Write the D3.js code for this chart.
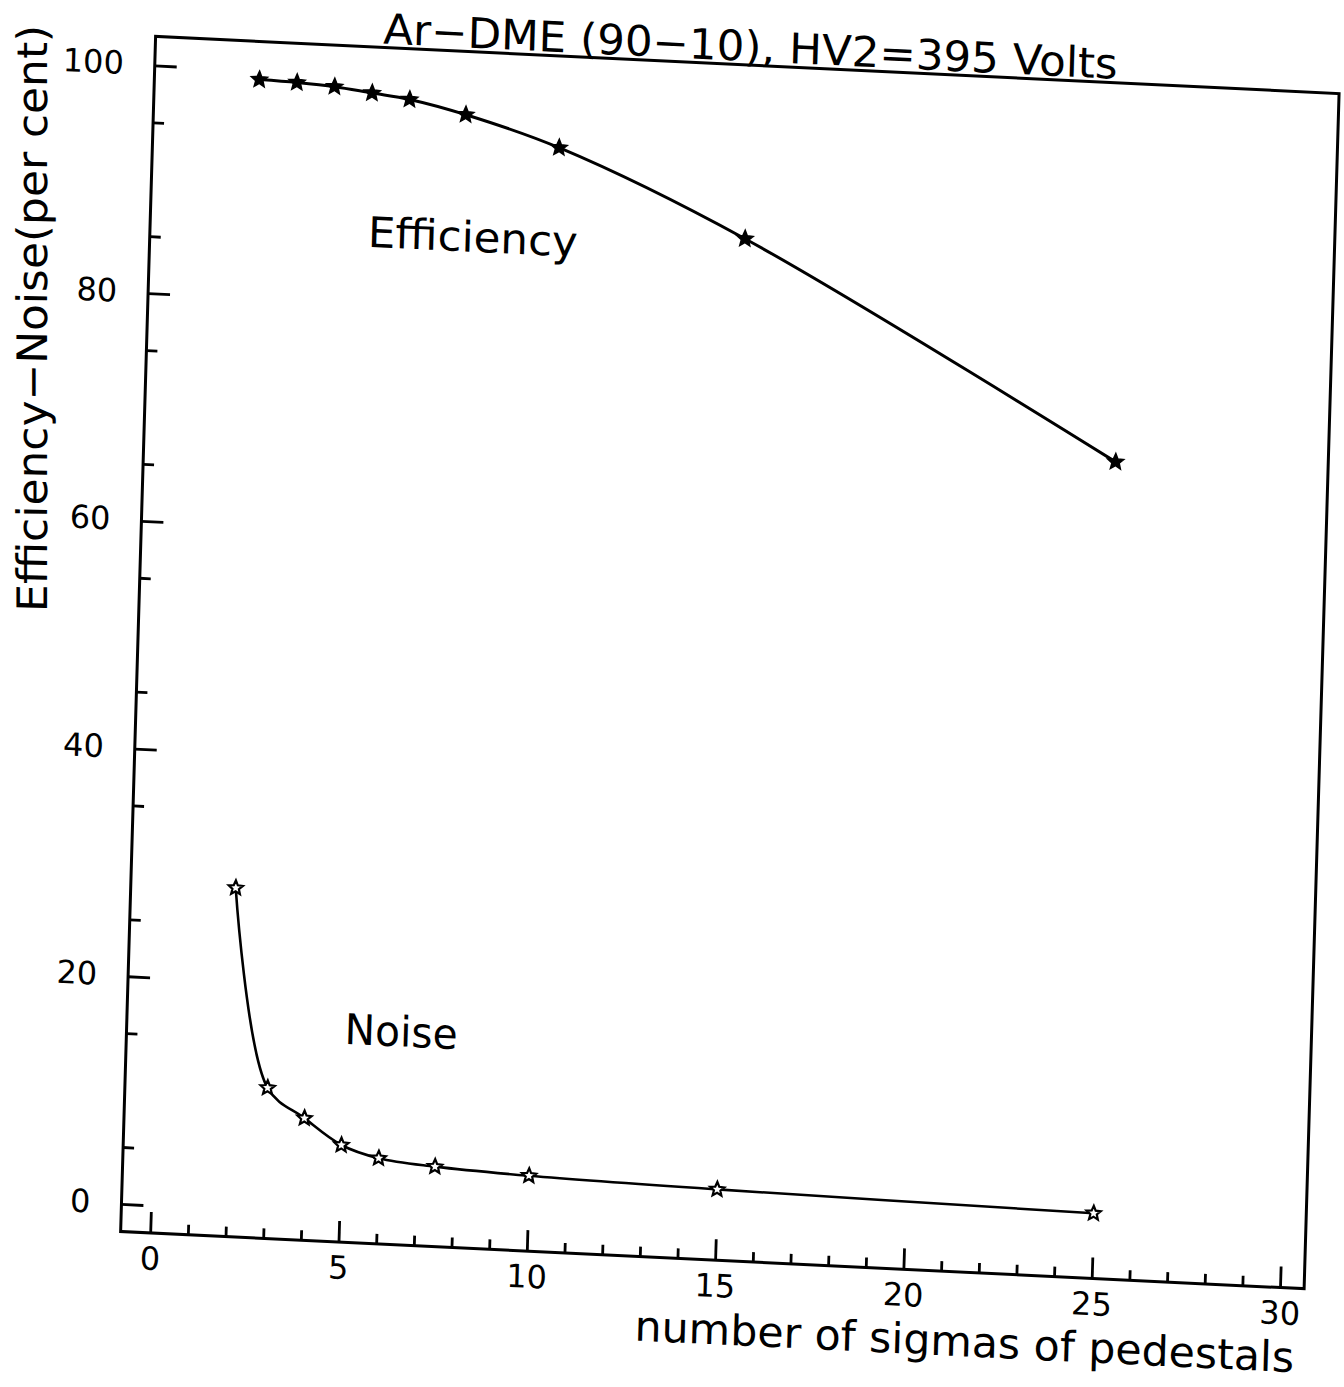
<!DOCTYPE html>
<html>
<head>
<meta charset="utf-8">
<script src="https://cdn.jsdelivr.net/npm/d3@7"></script>
<style>
  html, body { margin: 0; padding: 0; background: #fff; }
  svg { display: block; }
</style>
</head>
<body>
<svg id="chart" width="1344" height="1387"></svg>
<script>
// Threshold in sigmas of pedestal vs. efficiency and noise (per cent)
const sigmas = [2, 3, 4, 5, 6, 7.5, 10, 15, 25];
const efficiency = [99.2, 99.1, 98.9, 98.5, 98.1, 97.0, 94.5, 87.3, 69.3];
const noise = [28.2, 10.8, 8.3, 6.1, 5.1, 4.6, 4.2, 3.8, 3.3];

const xMajorTicks = [0, 5, 10, 15, 20, 25, 30];
const xMinorTicks = d3.range(0, 31).filter(v => v % 5 !== 0);
const yMajorTicks = [0, 20, 40, 60, 80, 100];
const yMinorTicks = [5, 15, 25, 35, 45, 55, 65, 75, 85, 95];

const titleText = "Ar\u2212DME (90\u221210), HV2=395 Volts";
const xTitle = "number of sigmas of pedestals";
const yTitle = "Efficiency\u2212Noise(per cent)";
const seriesNames = ["Efficiency", "Noise"];

// ---- layout ----
const xMin = -0.785, xMax = 30.64, yMin = -2.42, yMax = 102.55;
const pxPerX = 37.7, pxPerY = 11.39;
const W = (xMax - xMin) * pxPerX;
const H = (yMax - yMin) * pxPerY;
const FONT = "'DejaVu Sans', 'Liberation Sans', sans-serif";

const x = d3.scaleLinear().domain([xMin, xMax]).range([0, W]);
const y = d3.scaleLinear().domain([yMin, yMax]).range([H, 0]);

const svg = d3.select("#chart");
svg.append("rect").attr("width", 1344).attr("height", 1387).attr("fill", "#fff");

// the whole sheet sits slightly tilted on the page
const g = svg.append("g")
  .attr("transform", "matrix(0.99894,0.04828,-0.02924,0.99956,155.6,36.4)");

// frame
g.append("rect")
  .attr("x", 0).attr("y", 0).attr("width", W).attr("height", H)
  .attr("fill", "none").attr("stroke", "#000").attr("stroke-width", 3);

function styleAxis(sel) {
  sel.select(".domain").remove();
  sel.selectAll(".tick line").attr("stroke", "#000").attr("stroke-width", 2.8);
  sel.selectAll("text")
    .attr("fill", "#000")
    .style("font-family", FONT)
    .style("font-size", "32px");
}

// x axis: major and minor ticks pointing into the frame
g.append("g").attr("transform", `translate(0,${H})`)
  .call(d3.axisBottom(x).tickValues(xMajorTicks).tickSize(-21).tickPadding(14).tickFormat(d3.format("d")))
  .call(styleAxis);
g.append("g").attr("transform", `translate(0,${H})`)
  .call(d3.axisBottom(x).tickValues(xMinorTicks).tickSize(-10).tickFormat(""))
  .call(styleAxis);

// y axis
g.append("g")
  .call(d3.axisLeft(y).tickValues(yMajorTicks).tickSize(-22).tickPadding(31).tickFormat(d3.format("d")))
  .call(styleAxis)
  .selectAll("text").attr("dy", "0.3em");
g.append("g")
  .call(d3.axisLeft(y).tickValues(yMinorTicks).tickSize(-11).tickFormat(""))
  .call(styleAxis);

// titles
g.append("text")
  .attr("x", x(15)).attr("y", -4)
  .attr("text-anchor", "middle")
  .attr("textLength", 735).attr("lengthAdjust", "spacingAndGlyphs")
  .style("font-family", FONT).style("font-size", "42px")
  .text(titleText);

g.append("text")
  .attr("x", W - 8).attr("y", H + 84)
  .attr("text-anchor", "end")
  .attr("textLength", 660).attr("lengthAdjust", "spacingAndGlyphs")
  .style("font-family", FONT).style("font-size", "42px")
  .text(xTitle);

g.append("text")
  .attr("transform", `translate(-92,${y(yMin) - 615}) rotate(-91.66)`)
  .attr("text-anchor", "start")
  .attr("textLength", 587).attr("lengthAdjust", "spacingAndGlyphs")
  .style("font-family", FONT).style("font-size", "42px")
  .text(yTitle);

// curve labels
g.append("text")
  .attr("x", x(5)).attr("y", y(85))
  .attr("textLength", 210).attr("lengthAdjust", "spacingAndGlyphs")
  .style("font-family", FONT).style("font-size", "42px")
  .text(seriesNames[0]);
g.append("text")
  .attr("x", x(5)).attr("y", y(15))
  .attr("textLength", 113).attr("lengthAdjust", "spacingAndGlyphs")
  .style("font-family", FONT).style("font-size", "42px")
  .text(seriesNames[1]);

// smooth curves through the measured points
const line = d3.line()
  .x(d => x(d[0])).y(d => y(d[1]))
  .curve(d3.curveCatmullRom.alpha(0.5));

const effPts = sigmas.map((s, i) => [s, efficiency[i]]);
const noisePts = sigmas.map((s, i) => [s, noise[i]]);

g.append("path").datum(effPts).attr("d", line)
  .attr("fill", "none").attr("stroke", "#000").attr("stroke-width", 3);
g.append("path").datum(noisePts).attr("d", line)
  .attr("fill", "none").attr("stroke", "#000").attr("stroke-width", 2.6);

// five-pointed star marker
function starPath(R, r) {
  const pts = [];
  for (let k = 0; k < 10; k++) {
    const a = -Math.PI / 2 + k * Math.PI / 5;
    const rad = k % 2 === 0 ? R : r;
    pts.push([rad * Math.cos(a), rad * Math.sin(a)]);
  }
  return "M" + pts.map(p => p[0].toFixed(2) + "," + p[1].toFixed(2)).join("L") + "Z";
}

g.selectAll(".eff-pt").data(effPts).enter().append("path")
  .attr("class", "eff-pt")
  .attr("transform", d => `translate(${x(d[0])},${y(d[1])})`)
  .attr("d", starPath(8.5, 3.8))
  .attr("fill", "#000").attr("stroke", "#000").attr("stroke-width", 1.5);

g.selectAll(".noise-pt").data(noisePts).enter().append("path")
  .attr("class", "noise-pt")
  .attr("transform", d => `translate(${x(d[0])},${y(d[1])})`)
  .attr("d", starPath(7.5, 3.4))
  .attr("fill", "#fff").attr("stroke", "#000").attr("stroke-width", 2.2);
</script>
</body>
</html>
